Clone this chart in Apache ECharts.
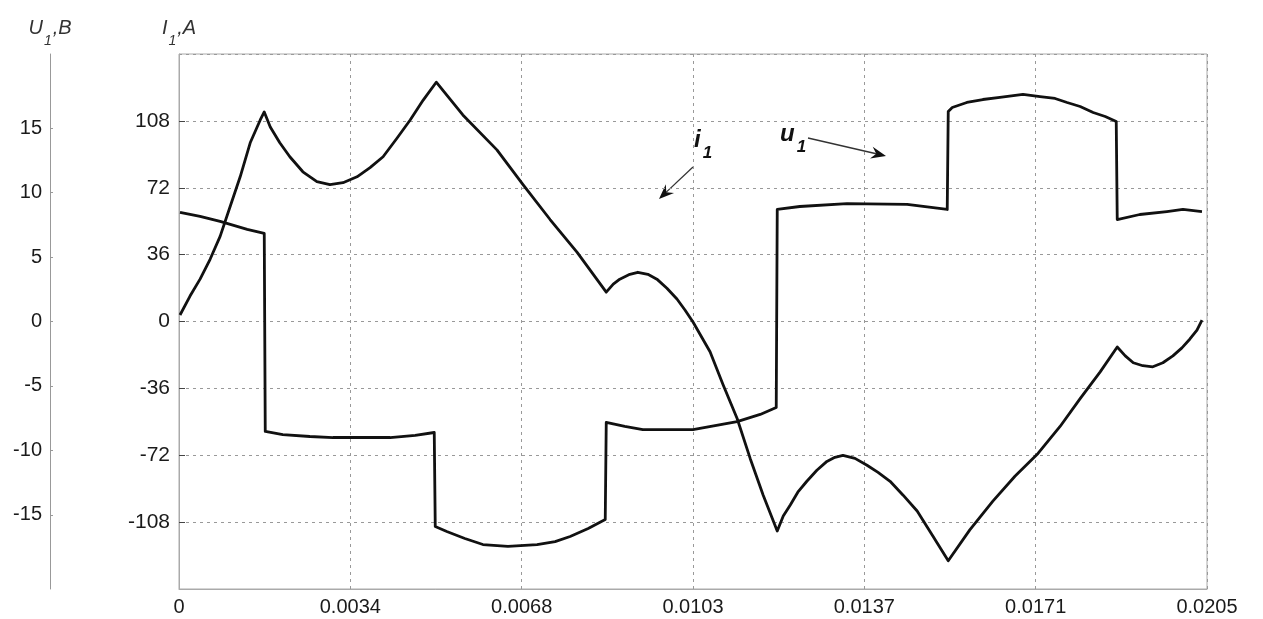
<!DOCTYPE html>
<html>
<head>
<meta charset="utf-8">
<title>u1 / i1</title>
<script src="https://cdn.jsdelivr.net/npm/echarts@6/dist/echarts.min.js"></script>
<style>
  html, body { margin: 0; padding: 0; background: #fff; }
  #main { width: 1263px; height: 619px; }
</style>
</head>
<body>
<div id="main"></div>
<script>
// time axis, seconds
var xTickLabels = ['0', '0.0034', '0.0068', '0.0103', '0.0137', '0.0171', '0.0205']
var xMax = 0.0205
var iTicks = [-108, -72, -36, 0, 36, 72, 108]
var uTicks = [-15, -10, -5, 0, 5, 10, 15]

// i1, A  [t, value]
var i1Data = [
  [0.00002, 3.5], [0.00022, 13.7], [0.00042, 22.8], [0.00062, 33.5], [0.00082, 45.8],
  [0.00102, 61.9], [0.00122, 77.9], [0.00142, 96.2], [0.00162, 108.5], [0.00170, 112.8],
  [0.00182, 104.7], [0.00201, 96.2], [0.00221, 88.7], [0.00247, 80.6], [0.00275, 75.3],
  [0.00301, 73.7], [0.00327, 74.7], [0.00355, 77.9], [0.00381, 82.8], [0.00407, 88.7],
  [0.00435, 98.8], [0.00461, 108.5], [0.00487, 119.2], [0.00513, 128.8],
  [0.00566, 111.2], [0.00634, 92.4], [0.00686, 73.7], [0.00740, 54.9], [0.00794, 37.2],
  [0.00852, 15.8], [0.00866, 20.1], [0.00879, 22.8], [0.00899, 25.4], [0.00915, 26.5],
  [0.00935, 25.4], [0.00953, 22.8], [0.00973, 17.9], [0.00993, 12.1], [0.01009, 6.2],
  [0.01025, -0.3], [0.01059, -16.3], [0.01085, -34.0], [0.01113, -52.2], [0.01139, -73.7],
  [0.01165, -93.5], [0.01193, -112.8], [0.01205, -104.7], [0.01219, -98.8], [0.01234, -91.9],
  [0.01252, -86.0], [0.01272, -80.1], [0.01292, -75.3], [0.01308, -73.1], [0.01324, -72.1],
  [0.01348, -73.7], [0.01372, -77.4], [0.01394, -81.2], [0.01418, -86.0], [0.01444, -93.5],
  [0.01472, -102.0], [0.01502, -114.9], [0.01534, -128.8], [0.01577, -112.2], [0.01623, -96.7],
  [0.01667, -83.3], [0.01713, -71.0], [0.01757, -56.5], [0.01797, -41.5], [0.01837, -27.1],
  [0.01871, -13.7], [0.01887, -18.5], [0.01903, -22.2], [0.01922, -23.8], [0.01942, -24.4],
  [0.01962, -22.2], [0.01982, -18.5], [0.02000, -14.2], [0.02016, -9.4], [0.02030, -4.6],
  [0.02040, 0.8]
]

// u1, B  [t, value]
var u1Data = [
  [0.00002, 8.46], [0.00042, 8.15], [0.00082, 7.76], [0.00136, 7.14], [0.00170, 6.83],
  [0.00172, -8.53], [0.00207, -8.77], [0.00261, -8.92], [0.00307, -9.00], [0.00421, -9.00],
  [0.00471, -8.84], [0.00509, -8.61],
  [0.00511, -15.90], [0.00534, -16.29], [0.00570, -16.83], [0.00606, -17.30], [0.00656, -17.45],
  [0.00714, -17.30], [0.00750, -17.07], [0.00780, -16.68], [0.00816, -16.06], [0.00850, -15.36],
  [0.00852, -7.83], [0.00889, -8.14], [0.00925, -8.38], [0.01025, -8.38], [0.01113, -7.76],
  [0.01159, -7.21], [0.01191, -6.67],
  [0.01193, 8.69], [0.01238, 8.92], [0.01332, 9.15], [0.01452, 9.08], [0.01532, 8.69],
  [0.01534, 16.29], [0.01542, 16.60], [0.01571, 16.99], [0.01603, 17.22], [0.01637, 17.38],
  [0.01683, 17.61], [0.01717, 17.45], [0.01747, 17.30], [0.01771, 16.99], [0.01797, 16.68],
  [0.01823, 16.21], [0.01847, 15.90], [0.01869, 15.51],
  [0.01871, 7.91], [0.01916, 8.30], [0.01970, 8.53], [0.02002, 8.69], [0.02040, 8.53]
]

var font = "'Liberation Sans', Arial, sans-serif"
var chart = echarts.init(document.getElementById('main'))

function arrow (x1, y1, x2, y2) {
  var dx = x2 - x1, dy = y2 - y1
  var len = Math.sqrt(dx * dx + dy * dy)
  var ux = dx / len, uy = dy / len
  var px = -uy, py = ux
  var hl = 15, hw = 6
  var bx = x2 - ux * hl, by = y2 - uy * hl
  var nx = x2 - ux * (hl - 5), ny = y2 - uy * (hl - 5)
  return [
    { type: 'line', shape: { x1: x1, y1: y1, x2: nx, y2: ny }, style: { stroke: '#333', lineWidth: 1.3 } },
    {
      type: 'polygon',
      shape: { points: [[x2, y2], [bx + px * hw, by + py * hw], [nx, ny], [bx - px * hw, by - py * hw]] },
      style: { fill: '#111' }
    }
  ]
}

// subscript: tall box for the letters, small box pushed to the bottom for the "1"
var sub = {
  a: { fontFamily: font, fontSize: 20, fontStyle: 'italic', color: '#333', lineHeight: 30, verticalAlign: 'top' },
  b: { fontFamily: font, fontSize: 14, fontStyle: 'italic', color: '#333', lineHeight: 14, padding: [0, 1, 0, 1], verticalAlign: 'bottom' }
}
var subBold = {
  a: { fontFamily: font, fontSize: 24, fontStyle: 'italic', fontWeight: 'bold', fill: '#111', lineHeight: 34, verticalAlign: 'top' },
  b: { fontFamily: font, fontSize: 17, fontStyle: 'italic', fontWeight: 'bold', fill: '#111', lineHeight: 17, padding: [0, 0, 0, 2], verticalAlign: 'bottom' }
}

var option = {
  animation: false,
  backgroundColor: '#fff',
  grid: {
    left: 179,
    right: 56,
    top: 54,
    bottom: 30,
    show: true,
    borderColor: '#aaa',
    borderWidth: 1
  },
  xAxis: {
    type: 'value',
    min: 0,
    max: xMax,
    interval: xMax / 6,
    axisLine: { show: true, onZero: false, lineStyle: { color: '#aaa' } },
    axisTick: { show: false },
    axisLabel: {
      fontFamily: font,
      fontSize: 20,
      color: '#1a1a1a',
      margin: 8,
      formatter: function (v) {
        return xTickLabels[Math.round(v / (xMax / 6))]
      }
    },
    splitLine: { show: true, lineStyle: { color: '#999', type: [3, 4], width: 1 } }
  },
  yAxis: [
    {
      type: 'value',
      min: -144,
      max: 144,
      interval: 36,
      position: 'left',
      name: '{a|I}{b|1}{a|,A}',
      nameLocation: 'end',
      nameGap: 6,
      nameTextStyle: { rich: sub },
      axisLine: { show: true, lineStyle: { color: '#aaa' } },
      axisTick: { show: true, inside: true, length: 6, lineStyle: { color: '#444' } },
      axisLabel: {
        fontFamily: font,
        fontSize: 21,
        color: '#1a1a1a',
        margin: 9,
        showMinLabel: false,
        showMaxLabel: false,
        formatter: function (v) { return iTicks.indexOf(v) >= 0 ? String(v) : '' }
      },
      splitLine: { show: true, lineStyle: { color: '#999', type: [3, 4], width: 1 } }
    },
    {
      type: 'value',
      min: -20.75,
      max: 20.75,
      position: 'left',
      offset: 129,
      name: '{a|U}{b|1}{a|,B}',
      nameLocation: 'end',
      nameGap: 6,
      nameTextStyle: { rich: sub },
      axisLine: { show: true, lineStyle: { color: '#999' } },
      axisTick: { show: true, inside: true, length: 3, customValues: uTicks, lineStyle: { color: '#999' } },
      axisLabel: {
        fontFamily: font,
        fontSize: 20,
        color: '#1a1a1a',
        margin: 8,
        customValues: uTicks
      },
      splitLine: { show: false }
    }
  ],
  series: [
    {
      name: 'i1',
      type: 'line',
      yAxisIndex: 0,
      data: i1Data,
      showSymbol: false,
      lineStyle: { color: '#111', width: 2.8, join: 'round' }
    },
    {
      name: 'u1',
      type: 'line',
      yAxisIndex: 1,
      data: u1Data,
      showSymbol: false,
      lineStyle: { color: '#111', width: 2.8, join: 'round' }
    }
  ],
  graphic: [
    { type: 'text', left: 694, top: 128, style: { text: '{a|i}{b|1}', rich: subBold } },
    { type: 'text', left: 780, top: 122, style: { text: '{a|u}{b|1}', rich: subBold } }
  ].concat(arrow(693, 167, 659, 199)).concat(arrow(808, 138, 886, 156))
}

chart.setOption(option)
</script>
</body>
</html>
